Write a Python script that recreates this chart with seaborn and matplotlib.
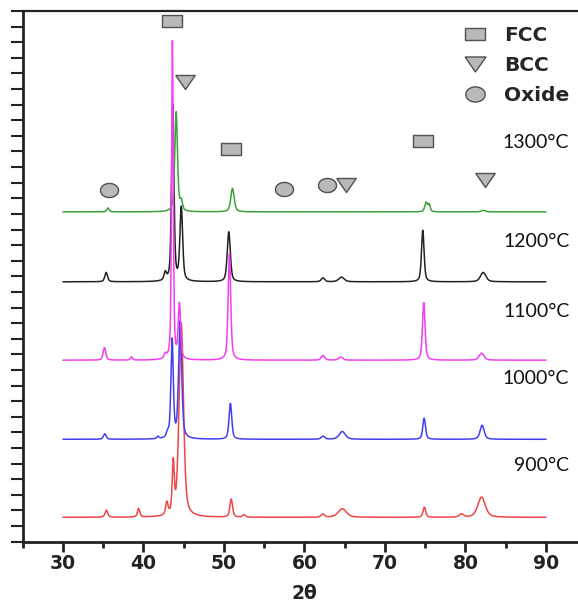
import matplotlib.pyplot as plt
from matplotlib.lines import Line2D
from matplotlib.markers import MarkerStyle
import numpy as np
import pandas as pd
import seaborn as sb

# peaks: 2theta position, height above the baseline, FWHM
pos_900 = [35.4, 39.4, 42.9, 43.7, 44.7, 50.9, 52.5, 62.3, 64.7, 74.9, 79.5, 82.0]
h_900 = [0.45, 0.55, 0.8, 3.2, 12.4, 1.15, 0.15, 0.2, 0.55, 0.65, 0.2, 1.3]
w_900 = [0.4, 0.35, 0.35, 0.3, 0.65, 0.4, 0.4, 0.5, 1.2, 0.4, 0.6, 1.1]

pos_1000 = [35.2, 41.8, 43.0, 43.56, 44.56, 50.8, 62.3, 64.7, 74.87, 82.07]
h_1000 = [0.35, 0.15, 0.3, 6.3, 7.5, 2.3, 0.2, 0.5, 1.35, 0.9]
w_1000 = [0.4, 0.3, 0.35, 0.35, 0.45, 0.4, 0.5, 0.9, 0.4, 0.6]

pos_1100 = [35.16, 38.5, 42.7, 43.6, 44.47, 50.68, 62.3, 64.5, 74.82, 82.0]
h_1100 = [0.8, 0.2, 0.3, 20.4, 3.5, 6.8, 0.3, 0.2, 3.7, 0.45]
w_1100 = [0.4, 0.3, 0.35, 0.25, 0.35, 0.38, 0.5, 0.6, 0.38, 0.7]

pos_1200 = [35.37, 42.7, 43.64, 44.7, 50.6, 62.3, 64.6, 74.7, 82.2]
h_1200 = [0.6, 0.5, 11.3, 4.7, 3.2, 0.25, 0.3, 3.3, 0.6]
w_1200 = [0.4, 0.35, 0.35, 0.4, 0.45, 0.5, 0.8, 0.38, 0.8]

pos_1300 = [35.6, 44.06, 44.7, 51.06, 75.12, 75.5, 82.2]
h_1300 = [0.25, 6.4, 0.6, 1.5, 0.6, 0.45, 0.1]
w_1300 = [0.35, 0.4, 0.35, 0.5, 0.4, 0.3, 0.6]

samples = ["900°C", "1000°C", "1100°C", "1200°C", "1300°C"]
baselines = [1.56, 6.56, 11.63, 16.65, 21.13]
label_y = [4.91, 10.48, 14.72, 19.25, 25.59]
colors = ["#f04646", "#4040f0", "#f040f0", "#222222", "#3aa03a"]

# phase markers
fcc_x = [43.52, 50.9, 74.78]
fcc_y = [33.35, 25.14, 25.65]
bcc_x = [45.22, 65.18, 82.42]
bcc_y = [29.45, 22.88, 23.16]
oxide_x = [35.78, 57.5, 62.82]
oxide_y = [22.56, 22.58, 22.88]


def pattern(x, pos, h, w, base):
    y = np.full_like(x, base)
    for c, a, fw in zip(pos, h, w):
        u = (x - c) / (fw / 2)
        y += a * (0.5 / (1 + u**2) + 0.5 * np.exp(-np.log(2) * u**2))
    return y


two_theta = np.arange(30, 90.001, 0.02)
peaks = [(pos_900, h_900, w_900), (pos_1000, h_1000, w_1000), (pos_1100, h_1100, w_1100),
         (pos_1200, h_1200, w_1200), (pos_1300, h_1300, w_1300)]
frames = []
for name, (p, h, w), b in zip(samples, peaks, baselines):
    frames.append(pd.DataFrame({"two_theta": two_theta,
                                "intensity": pattern(two_theta, p, h, w, b),
                                "sample": name}))
df = pd.concat(frames, ignore_index=True)

sb.set_style("ticks")
plt.rcParams["font.family"] = ["DejaVu Sans"]

fig = plt.figure(figsize=(5.78, 6.05), dpi=100)
ax = fig.add_axes([22.7 / 578, 63.3 / 605, 563.5 / 578, 530.7 / 605])

sb.lineplot(data=df, x="two_theta", y="intensity", hue="sample",
            hue_order=["900°C", "1000°C", "1200°C", "1300°C", "1100°C"],
            palette=dict(zip(samples, colors)), estimator=None, sort=False,
            linewidth=1.1, legend=False, ax=ax)

rect = MarkerStyle(np.array([[-1, -0.6], [1, -0.6], [1, 0.6], [-1, 0.6], [-1, -0.6]]))
tri = MarkerStyle(np.array([[-1, 0.72], [1, 0.72], [0, -0.72], [-1, 0.72]]))
t = np.linspace(0, 2 * np.pi, 60)
ell = MarkerStyle(np.column_stack([np.cos(t), 0.78 * np.sin(t)]))
face = "#b9b9b9"
edge = "#505050"

sb.scatterplot(x=fcc_x, y=fcc_y, marker=rect, s=14**2, color=face, edgecolor=edge, linewidth=1, zorder=5, ax=ax)
sb.scatterplot(x=bcc_x, y=bcc_y, marker=tri, s=14**2, color=face, edgecolor=edge, linewidth=1, zorder=5, ax=ax)
sb.scatterplot(x=oxide_x, y=oxide_y, marker=ell, s=13**2, color=face, edgecolor=edge, linewidth=1, zorder=5, ax=ax)

for name, yy in zip(samples, label_y):
    ax.text(92.9, yy, name, ha="right", va="center", fontsize=14, family="Lato", color="#111111")

handles = [Line2D([], [], marker=rect, linestyle="none", markersize=15, markerfacecolor=face, markeredgecolor=edge),
           Line2D([], [], marker=tri, linestyle="none", markersize=15, markerfacecolor=face, markeredgecolor=edge),
           Line2D([], [], marker=ell, linestyle="none", markersize=14, markerfacecolor=face, markeredgecolor=edge)]
leg = ax.legend(handles, ["FCC", "BCC", "Oxide"], loc="upper left", bbox_to_anchor=(460 / 578, 1 - 26 / 605),
                bbox_transform=fig.transFigure, frameon=False, handlelength=1.5, handletextpad=0.7,
                labelspacing=0.55, borderpad=0, borderaxespad=0,
                prop={"family": "DejaVu Sans", "weight": "bold", "size": 14.5})

ax.set_xlim(25, 95)
ax.set_ylim(0, 34)
ax.set_xticks(np.arange(30, 91, 10))
ax.set_xticks(np.arange(25, 96, 10), minor=True)
ax.set_yticks(np.arange(0, 35, 1))
ax.set_yticklabels([])
ax.tick_params(axis="x", which="major", direction="out", length=7, width=2, color="#222222",
               labelsize=13.5, pad=1.5, labelcolor="#222222")
ax.tick_params(axis="x", which="minor", direction="out", length=4, width=2, color="#222222")
ax.tick_params(axis="y", direction="out", length=9, width=1.5, color="#222222")
for lab in ax.get_xticklabels():
    lab.set_fontweight("bold")

ax.spines["right"].set_visible(False)
for s in ["left", "bottom"]:
    ax.spines[s].set_linewidth(2)
    ax.spines[s].set_color("#222222")
ax.spines["top"].set_linewidth(1.6)
ax.spines["top"].set_color("#222222")

ax.set_xlabel("2θ", fontsize=13.5, fontweight="bold", color="#222222", labelpad=8.5)
ax.set_ylabel("")

fig.savefig("out.png", dpi=100)
